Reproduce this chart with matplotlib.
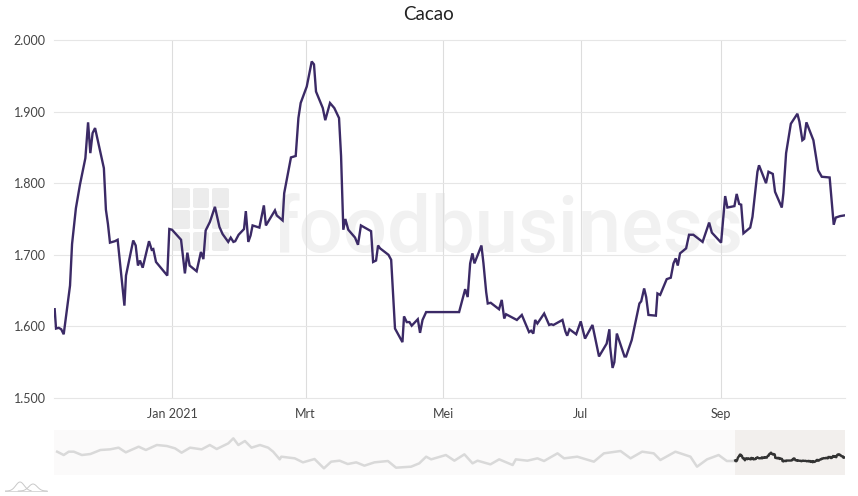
import matplotlib
matplotlib.use("Agg")
import matplotlib.pyplot as plt
import matplotlib.dates as mdates
from matplotlib.patches import FancyBboxPatch
import numpy as np
import pandas as pd

# main series: days since 1 jan 2021, price
days = [-52.2, -51.6, -50.4, -49.3, -48.2, -45.4, -44.5, -42.8, -41, -38.6, -37.4, -36.4, -35.4, -34.3,
        -31.5, -30.4, -29.5, -28.6, -27.7, -25.5, -24.3, -21.3, -20.6, -17.4, -16.3, -15.3, -14.4, -13.2,
        -10.4, -9.2, -8.5, -7.3, -2.3, -1.4, -0.2, 3.8, 5.5, 6.6, 7.6, 10.7, 12.6, 13.7, 14.7, 16.6,
        18.8, 20.8, 22.2, 24.7, 25.8, 27, 27.8, 29.3, 31.7, 32.5, 33.6, 34.6, 35.5, 38.5, 40.5, 41.4,
        45.4, 46.2, 48.8, 49.5, 52.5, 54.6, 55.8, 56.8, 59.5, 61.7, 62.7, 63.6, 66.6, 67.7, 69.8, 71.7,
        73.8, 74.7, 75.7, 76.6, 77.9, 80.9, 82.2, 83.5, 88, 88.9, 90.2, 91.1, 92, 95.7, 96.9, 98.6,
        101.9, 102.6, 103.8, 105, 106, 108.7, 109.7, 110.8, 112.4, 127, 129.7, 130.8, 131.9, 132.9,
        133.8, 136.9, 137.8, 139, 139.7, 141, 144.7, 145.9, 147, 147.8, 152.6, 154.8, 158, 158.9,
        159.9, 160.7, 161.7, 164.7, 166.9, 167.8, 168.8, 172.8, 174.1, 174.9, 175.9, 178.9, 180.9,
        182.8, 186.1, 189, 192.4, 193.6, 193.9, 195, 195.8, 196.9, 200.3, 201, 203.5, 206.9, 207.7,
        209, 209.9, 210.9, 214.2, 214.9, 216.1, 219, 220.8, 222, 223, 223.9, 224.9, 227.6, 228.9,
        230.8, 234.9, 237.8, 239, 243.1, 244.9, 245.9, 249, 250, 251.1, 252, 253, 256, 257, 259.2,
        259.9, 263, 264.1, 266, 267, 270, 270.7, 271.9, 274, 276.9, 277.8, 279.1, 279.9, 280.9, 284,
        286.1, 287.7, 291.2, 293, 293.9, 295.8, 297.7]
prices = [1624, 1597, 1598, 1596, 1589, 1657, 1715, 1765, 1798, 1835, 1885, 1842, 1870, 1877,
          1837, 1821, 1763, 1743, 1717, 1719, 1721, 1629, 1671, 1720, 1713, 1685, 1692, 1682,
          1719, 1707, 1708, 1690, 1671, 1736, 1735, 1721, 1674, 1703, 1685, 1677, 1704, 1694, 1734, 1746,
          1767, 1739, 1729, 1718, 1724, 1718, 1719, 1728, 1736, 1761, 1718, 1727, 1741, 1738, 1769, 1741,
          1762, 1755, 1748, 1786, 1836, 1838, 1891, 1912, 1935, 1970, 1966, 1928, 1905, 1888, 1912, 1905,
          1891, 1838, 1735, 1750, 1735, 1724, 1714, 1741, 1733, 1690, 1692, 1713, 1709, 1700, 1693, 1597,
          1578, 1614, 1606, 1606, 1601, 1610, 1591, 1609, 1620, 1620, 1652, 1641, 1688, 1702,
          1688, 1713, 1688, 1648, 1632, 1633, 1624, 1637, 1611, 1617, 1609, 1616, 1592, 1594,
          1590, 1609, 1604, 1618, 1602, 1603, 1602, 1609, 1593, 1587, 1596, 1589, 1607,
          1583, 1602, 1558, 1576, 1596, 1572, 1542, 1550, 1590, 1558, 1558, 1581, 1632, 1635,
          1653, 1641, 1616, 1615, 1646, 1644, 1666, 1668, 1688, 1695, 1685, 1702, 1709, 1728,
          1728, 1718, 1745, 1731, 1717, 1782, 1766, 1768, 1785, 1771, 1770, 1730, 1738, 1753, 1816,
          1825, 1800, 1816, 1813, 1788, 1766, 1786, 1842, 1883, 1897, 1886, 1860, 1862, 1885, 1860,
          1818, 1809, 1808, 1742, 1752, 1754, 1755]

# navigator history before the selected window
hist_days = [-2215, -2194, -2178, -2162, -2136, -2109, -2077, -2046, -2019, -1996, -1955, -1932, -1897,
             -1865, -1839, -1818, -1791, -1754, -1728, -1706, -1669, -1653, -1637, -1616, -1595, -1568,
             -1542, -1526, -1505, -1500, -1457, -1431, -1394, -1364, -1341, -1314, -1288, -1261, -1235,
             -1203, -1160, -1134, -1086, -1060, -1038, -1022, -975, -948, -916, -890, -874, -833, -805,
             -762, -752, -715, -683, -662, -619, -598, -556, -503, -471, -418, -386, -349, -312, -291,
             -243, -195, -174, -142, -105, -79, -52]
hist_prices = [2015, 1866, 2015, 2015, 1866, 1911, 2090, 2119, 2194, 1985, 2238, 2090, 2313,
               2268, 2164, 1970, 2194, 2119, 2313, 2134, 2387, 2610, 2313, 2491, 2194, 2313,
               2194, 2015, 1673, 1792, 1718, 1539, 1688, 1272, 1569, 1614, 1465, 1539, 1391,
               1539, 1599, 1301, 1346, 1495, 1792, 1673, 1866, 1614, 1896, 1495, 1614, 1450, 1673,
               1420, 1673, 1614, 1718, 1599, 1941, 1718, 1792, 1569, 1941, 2045, 1718, 2015, 1941, 1643,
               2015, 1792, 1346, 1673, 1866, 1599, 1599]

y_ticks = [1500, 1600, 1700, 1800, 1900, 2000]
x_ticks = ["2021-01-01", "2021-03-01", "2021-05-01", "2021-07-01", "2021-09-01"]
x_labels = ["Jan 2021", "Mrt", "Mei", "Jul", "Sep"]

W, H = 858, 496
plt.rcParams["font.family"] = ["Lato", "DejaVu Sans"]


def to_dates(values):
    return pd.Timestamp("2021-01-01") + pd.to_timedelta(values, unit="D")


def px_rect(left, top, right, bottom):
    return [left / W, 1 - bottom / H, (right - left) / W, (bottom - top) / H]


fig = plt.figure(figsize=(W / 100, H / 100), dpi=100, facecolor="white")

ax = fig.add_axes(px_rect(54, 40, 845, 398))
dates = to_dates(days)
ax.plot(dates, prices, color="#3b2a66", lw=1.7, zorder=3, solid_joinstyle="miter")
ax.set_xlim(to_dates([-52.5])[0], to_dates([298])[0])
ax.set_ylim(1500, 2000)
ax.set_yticks(y_ticks)
ax.set_yticklabels([f"{v:,}".replace(",", ".") for v in y_ticks])
ax.set_xticks(mdates.date2num(pd.to_datetime(x_ticks)))
ax.set_xticklabels(x_labels)
ax.tick_params(length=0, labelsize=9, labelcolor="#444444")
ax.tick_params(axis="y", pad=6)
ax.tick_params(axis="x", pad=7)
ax.grid(axis="y", color="#e6e6e6", lw=0.8)
ax.grid(axis="x", color="#dddddd", lw=0.8)
ax.set_axisbelow(True)
for s in ax.spines.values():
    s.set_visible(False)
for line in ax.get_ygridlines():
    line.set_clip_on(False)

# watermark
ax.text(271 / W, 1 - 252 / H, "foodbusiness", transform=fig.transFigure,
        family="Roboto", fontsize=56, fontweight="medium", color="#f1f1f1",
        zorder=0.5, ha="left", va="baseline")
for left, right in [(172, 190), (193, 209), (212, 229)]:
    for top, bottom in [(188, 208), (210, 229), (232, 251)]:
        x0, y0, w, h = px_rect(left, top, right, bottom)
        ax.add_patch(FancyBboxPatch((x0, y0), w, h, boxstyle="round,pad=0,rounding_size=0.003",
                                    transform=fig.transFigure, fc="#ececec", ec="none", zorder=0.5))

fig.text(429 / W, 1 - 15 / H, "Cacao", ha="center", va="center", fontsize=13.5, color="#222222")

# navigator
nav = fig.add_axes(px_rect(54, 430, 845, 475))
nav.set_facecolor("#fbfafa")
nav.axvspan(dates[0], dates[-1], color="#f2efed", lw=0)
nav.plot(to_dates(hist_days), hist_prices, color="#d9d9d9", lw=1.8)
nav.plot(dates, prices, color="#333333", lw=1.7)
nav.set_xlim(to_dates([-2225])[0], to_dates([298])[0])
nav.set_ylim(975, 2982)
nav.set_xticks([])
nav.set_yticks([])
for s in nav.spines.values():
    s.set_visible(False)

# small icon bottom left
icon = fig.add_axes(px_rect(5, 480, 48, 493))
icon.axis("off")
icon.set_xlim(5, 48)
icon.set_ylim(493, 480)
icon.plot([5, 47], [491, 491], color="#d8d8d8", lw=0.7)
t = np.linspace(5, 47, 80)
icon.plot(t[:50], 491 - 9 * np.exp(-((t[:50] - 20) / 6) ** 2), color="#c8c8c8", lw=0.7)
icon.plot(t[25:], 491 - 7 * np.exp(-((t[25:] - 33) / 6) ** 2), color="#c8c8c8", lw=0.7)

fig.savefig("out.png", dpi=100)
